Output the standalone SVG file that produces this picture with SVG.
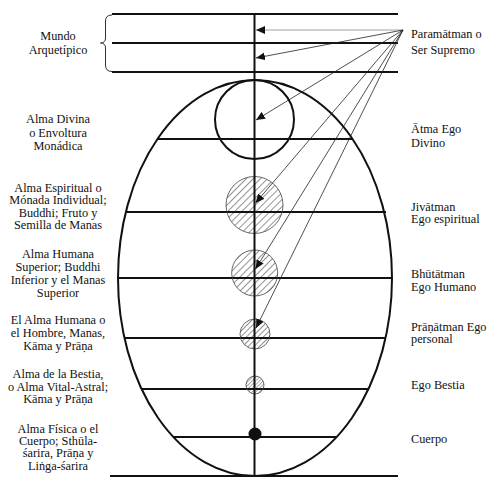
<svg xmlns="http://www.w3.org/2000/svg" width="500" height="491" viewBox="0 0 500 491">
<defs>
<style>
text{font-family:"Liberation Serif","DejaVu Serif",serif;font-size:12.3px;fill:#111}
.l{text-anchor:middle}
.r{text-anchor:start}
.ln{stroke:#111;stroke-width:2;fill:none}
.ar{stroke:#222;stroke-width:0.8;fill:none;marker-end:url(#ah)}
.hc{stroke:#444;stroke-width:0.8}
</style>
<marker id="ah" markerUnits="userSpaceOnUse" markerWidth="10" markerHeight="8" refX="9" refY="4" orient="auto">
<path d="M0,0 L9,4 L0,8 Z" fill="#111"/>
</marker>
<pattern id="h5" patternUnits="userSpaceOnUse" width="5" height="5" patternTransform="rotate(45)">
<line x1="0" y1="0" x2="0" y2="5" stroke="#111" stroke-width="0.9"/>
</pattern>
<pattern id="h4" patternUnits="userSpaceOnUse" width="4" height="4" patternTransform="rotate(45)">
<line x1="0" y1="0" x2="0" y2="4" stroke="#111" stroke-width="0.9"/>
</pattern>
<pattern id="h3" patternUnits="userSpaceOnUse" width="2.6" height="2.6" patternTransform="rotate(45)">
<line x1="0" y1="0" x2="0" y2="2.6" stroke="#111" stroke-width="0.7"/>
</pattern>
</defs>
<g id="frame">
<line class="ln" x1="112" y1="14" x2="398" y2="14"/>
<line class="ln" x1="112" y1="43" x2="398" y2="43"/>
<line class="ln" x1="112" y1="72" x2="398" y2="72"/>
<path d="M112,15 Q105.5,15 105.5,21 L105.5,38 Q105.5,43 100.5,43 Q105.5,43 105.5,48 L105.5,65 Q105.5,71.5 112,71.5" fill="none" stroke="#333" stroke-width="1"/>
<ellipse class="ln" cx="255" cy="278" rx="137" ry="198"/>
<line class="ln" x1="157" y1="139" x2="352" y2="139"/>
<line class="ln" x1="125" y1="212" x2="386" y2="212"/>
<line class="ln" x1="118" y1="278" x2="392" y2="278"/>
<line class="ln" x1="125" y1="338" x2="386" y2="338"/>
<line class="ln" x1="142" y1="389" x2="368" y2="389"/>
<line class="ln" x1="174" y1="437" x2="336" y2="437"/>
<line x1="110" y1="476" x2="398" y2="476" stroke="#111" stroke-width="2.2"/>
</g>
<g id="atma"><circle cx="254.5" cy="119.5" r="39.5" fill="none" stroke="#111" stroke-width="2"/></g>
<g id="jivatman"><circle class="hc" cx="254.5" cy="205" r="28.5" fill="url(#h5)"/></g>
<g id="bhutatman"><circle class="hc" cx="254.7" cy="273" r="23" fill="url(#h5)"/></g>
<g id="pranatman"><circle class="hc" cx="255" cy="334" r="15" fill="url(#h4)"/></g>
<g id="bestia"><circle class="hc" cx="255" cy="385" r="9" fill="url(#h3)"/></g>
<g id="cuerpo"><circle cx="255" cy="434" r="6.5" fill="#111"/></g>
<g id="axis"><line class="ln" x1="254.5" y1="14" x2="254.5" y2="476"/></g>
<g id="connectors">
<line class="ar" x1="403" y1="30" x2="256" y2="30" style="stroke:#888"/>
<line class="ar" x1="403" y1="30" x2="256" y2="58"/>
<line class="ar" x1="403" y1="30" x2="256" y2="120"/>
<line class="ar" x1="403" y1="30" x2="255.5" y2="203"/>
<line class="ar" x1="403" y1="30" x2="255.5" y2="269"/>
<line class="ar" x1="403" y1="30" x2="256" y2="328"/>
</g>
<g id="labels-left">
<text class="l" x="58" y="39.5">Mundo</text>
<text class="l" x="58" y="54">Arquetípico</text>
<text class="l" x="58" y="123.3">Alma Divina</text>
<text class="l" x="58" y="136.7">o Envoltura</text>
<text class="l" x="58" y="150">Monádica</text>
<text class="l" x="58" y="191.7">Alma Espiritual o</text>
<text class="l" x="58" y="204.2">Mónada Individual;</text>
<text class="l" x="58" y="216.7">Buddhi; Fruto y</text>
<text class="l" x="58" y="229.2">Semilla de Manas</text>
<text class="l" x="58" y="257.7">Alma Humana</text>
<text class="l" x="58" y="271">Superior; Buddhi</text>
<text class="l" x="58" y="284.3">Inferior y el Manas</text>
<text class="l" x="58" y="296.7">Superior</text>
<text class="l" x="58" y="324.3">El Alma Humana o</text>
<text class="l" x="58" y="337.3">el Hombre, Manas,</text>
<text class="l" x="58" y="350">Kāma y Prāṇa</text>
<text class="l" x="58" y="378.3">Alma de la Bestia,</text>
<text class="l" x="58" y="391">o Alma Vital-Astral;</text>
<text class="l" x="58" y="403.3">Kāma y Prāṇa</text>
<text class="l" x="58" y="432.7">Alma Física o el</text>
<text class="l" x="58" y="445">Cuerpo; Sthūla-</text>
<text class="l" x="58" y="457.3">śarira, Prāṇa y</text>
<text class="l" x="58" y="470">Liṅga-śarira</text>
</g>
<g id="labels-right">
<text class="r" x="411" y="37.7">Paramātman o</text>
<text class="r" x="411" y="54">Ser Supremo</text>
<text class="r" x="411" y="133.3">Ātma Ego</text>
<text class="r" x="411" y="146.7">Divino</text>
<text class="r" x="411" y="211">Jivātman</text>
<text class="r" x="411" y="223.3">Ego espiritual</text>
<text class="r" x="411" y="277.7">Bhūtātman</text>
<text class="r" x="411" y="291">Ego Humano</text>
<text class="r" x="411" y="331">Prāṇātman Ego</text>
<text class="r" x="411" y="343.3">personal</text>
<text class="r" x="411" y="389.3">Ego Bestia</text>
<text class="r" x="411" y="443.3">Cuerpo</text>
</g>
</svg>
